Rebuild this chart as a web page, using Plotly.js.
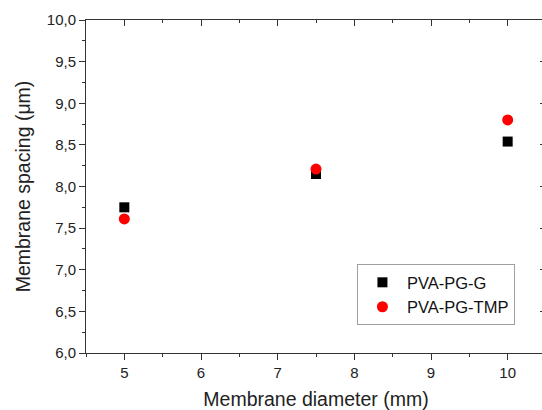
<!DOCTYPE html>
<html>
<head>
<meta charset="utf-8">
<script src="https://cdn.plot.ly/plotly-3.0.1.min.js"></script>
<style>
html, body { margin: 0; padding: 0; overflow: hidden; background: #fff; }
#chart { width: 546px; height: 410px; }
</style>
</head>
<body>
<div id="chart"></div>
<script>
const diameters = [5, 7.5, 10];
const spacingG = [7.75, 8.15, 8.54];
const spacingTMP = [7.61, 8.21, 8.80];
const seriesNames = ['PVA-PG-G', 'PVA-PG-TMP'];
const xTitle = 'Membrane diameter (mm)';
const yTitle = 'Membrane spacing (μm)';

const axisColor = '#333';
const fontFam = '"Liberation Sans", Arial, sans-serif';

const traces = [
  {
    x: diameters, y: spacingG, name: seriesNames[0], type: 'scatter', mode: 'markers',
    marker: { symbol: 'square', size: 10, color: '#000', line: { width: 0 } }
  },
  {
    x: diameters, y: spacingTMP, name: seriesNames[1], type: 'scatter', mode: 'markers',
    marker: { symbol: 'circle', size: 11, color: '#ff0000', line: { width: 0 } }
  },
  { x: [], y: [], xaxis: 'x2', yaxis: 'y2', showlegend: false, hoverinfo: 'skip', type: 'scatter', mode: 'markers' }
];

const baseAxis = {
  showgrid: false, zeroline: false, showline: true, linecolor: axisColor, linewidth: 1,
  tickcolor: axisColor, tickwidth: 1, ticklen: 6,
  tickfont: { family: fontFam, size: 15, color: '#222' }
};

const layout = {
  width: 546, height: 410,
  margin: { l: 86, r: 0, t: 20, b: 57, pad: 0 },
  paper_bgcolor: '#fff', plot_bgcolor: '#fff',
  separators: ', ',
  font: { family: fontFam, color: '#222' },
  xaxis: Object.assign({}, baseAxis, {
    range: [4.5, 10.5], autorange: false, dtick: 1, tick0: 0, ticks: 'outside',
    minor: { dtick: 0.5, tick0: 0, ticks: 'outside', ticklen: 3, tickcolor: axisColor },
    title: { text: xTitle, font: { family: fontFam, size: 19.5, color: '#222' }, standoff: 12 }
  }),
  yaxis: Object.assign({}, baseAxis, {
    range: [6, 10], autorange: false, dtick: 0.5, tick0: 0, ticks: 'outside', tickformat: '.1f',
    minor: { dtick: 0.25, tick0: 0, ticks: 'outside', ticklen: 3, tickcolor: axisColor },
    title: { text: yTitle, font: { family: fontFam, size: 19.5, color: '#222' }, standoff: 10 }
  }),
  xaxis2: Object.assign({}, baseAxis, {
    overlaying: 'x', side: 'top', range: [4.5, 10.5], autorange: false, dtick: 1, tick0: 0,
    ticks: 'inside', showticklabels: false,
    minor: { dtick: 0.5, tick0: 0, ticks: 'inside', ticklen: 3, tickcolor: axisColor }
  }),
  yaxis2: Object.assign({}, baseAxis, {
    overlaying: 'y', side: 'right', range: [6, 10], autorange: false, dtick: 0.5, tick0: 0,
    ticks: 'inside', showticklabels: false,
    minor: { dtick: 0.25, tick0: 0, ticks: 'inside', ticklen: 3, tickcolor: axisColor }
  }),
  showlegend: true,
  legend: {
    x: 0.589, y: 0.267, xanchor: 'left', yanchor: 'top',
    bgcolor: '#fff', bordercolor: '#a0a0a0', borderwidth: 1,
    font: { family: fontFam, size: 16.5, color: '#111' },
    itemwidth: 39,
    tracegroupgap: 0
  }
};

Plotly.newPlot('chart', traces, layout, { displayModeBar: false, staticPlot: true });
</script>
</body>
</html>
